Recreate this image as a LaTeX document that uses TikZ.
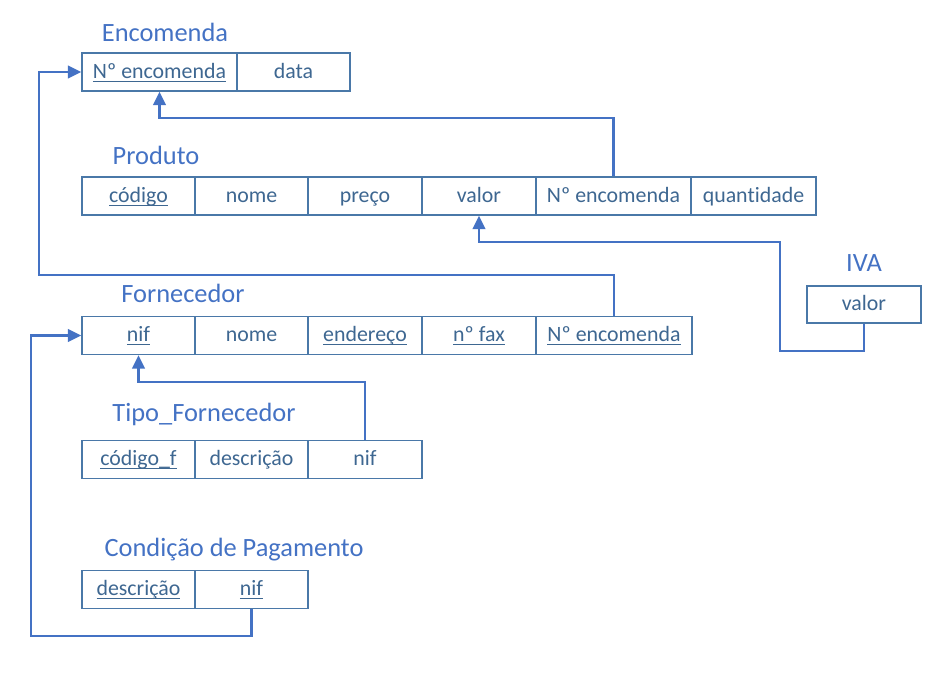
\documentclass[tikz,border=0pt]{standalone}
\usepackage{fontspec}
\setmainfont{Carlito}[Ligatures=NoCommon]
\usetikzlibrary{arrows.meta,calc}
\definecolor{ttl}{HTML}{4472C4}
\definecolor{txt}{HTML}{3E6791}
\definecolor{brd}{HTML}{4A78A8}
\definecolor{lnk}{HTML}{4472C4}
\newcommand\uln[1]{\setbox0\hbox{#1}\rlap{\color{txt}\rule[-2.6pt]{\wd0}{0.7pt}}\box0}
\tikzset{
  cell/.style={draw=brd, line width=1.1pt, text=txt, inner sep=0pt, minimum height=28.5pt, text height=12pt, text depth=3pt, font=\fontsize{16.4}{19}\selectfont},
  cw/.style={minimum width=#1*0.75pt},
  ttlnode/.style={text=ttl, font=\fontsize{19.8}{23}\selectfont, inner sep=0pt, text height=16pt, text depth=3pt},
  link/.style={draw=lnk, line width=1.6pt},
  arr/.style={link, -{Triangle[length=10pt,width=9.5pt]}}
}
\begin{document}
\begin{tikzpicture}[x=0.75pt,y=-0.75pt]
\useasboundingbox (0,0) rectangle (945,672);
% Encomenda
\node[ttlnode] (tenc) at (165,33) {Encomenda};
\node[cell,cw=155] (en1) at (159.5,72) {\uln{Nº encomenda}};
\node[cell,cw=113] (en2) at (293.5,72) {data};
% Produto
\node[ttlnode] (tprod) at (156,156) {Produto};
\node[cell,cw=113] (pc) at (138.5,196) {\uln{código}};
\node[cell,cw=113] (pn) at (251.5,196) {nome};
\node[cell,cw=114] (pp) at (365,196) {preço};
\node[cell,cw=114] (pv) at (479,196) {valor};
\node[cell,cw=155] (pne) at (613.5,196) {Nº encomenda};
\node[cell,cw=125] (pq) at (753.5,196) {quantidade};
% IVA
\node[ttlnode] (tiva) at (864,263) {IVA};
\node[cell,cw=114,minimum height=27.75pt] (iva1) at (864,304.5) {valor};
% Fornecedor
\node[ttlnode] (tforn) at (183,294) {Fornecedor};
\node[cell,cw=113] (fnif) at (138.5,335.5) {\uln{nif}};
\node[cell,cw=113] (fn) at (251.5,335.5) {nome};
\node[cell,cw=114] (fe) at (365,335.5) {\uln{endereço}};
\node[cell,cw=114] (ff) at (479,335.5) {\uln{nº fax}};
\node[cell,cw=156] (fne) at (614,335.5) {\uln{Nº encomenda}};
% Tipo_Fornecedor
\node[ttlnode] (ttipo) at (204,413) {Tipo\_Fornecedor};
\node[cell,cw=113] (tc) at (138.5,459.5) {\uln{código\_f}};
\node[cell,cw=113] (td) at (251.5,459.5) {descrição};
\node[cell,cw=114] (tnif) at (365,459.5) {nif};
% Condicao de Pagamento
\node[ttlnode] (tcond) at (234,548) {Condição de Pagamento};
\node[cell,cw=113] (cd) at (138.5,589.5) {\uln{descrição}};
\node[cell,cw=113] (cnif) at (251.5,589.5) {\uln{nif}};
% connectors
\coordinate (k1) at (0,118);
\draw[arr] (pne.north) -- (pne.north |- k1) -| (en1.south);
\coordinate (k2a) at (780,351);
\coordinate (k2b) at (780,242);
\draw[arr] (iva1.south) |- (k2a) -- (k2b) -| (pv.south);
\coordinate (k3) at (39,275);
\draw[arr] (fne.north) |- (k3) |- (en1.west);
\coordinate (k4) at (0,382);
\draw[arr] (tnif.north) -- (tnif.north |- k4) -| (fnif.south);
\coordinate (k5) at (31,636);
\draw[arr] (cnif.south) |- (k5) |- (fnif.west);
\end{tikzpicture}
\end{document}
